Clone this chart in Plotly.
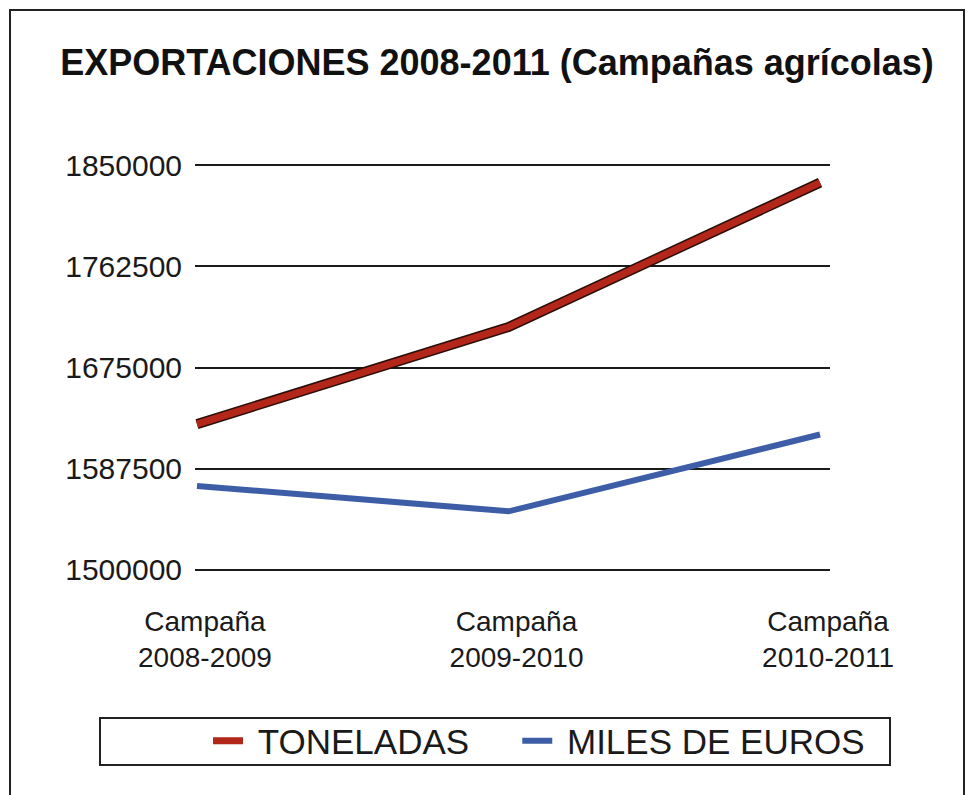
import plotly.graph_objects as go

# data
campanas = ["Campaña<br>2008-2009", "Campaña<br>2009-2010", "Campaña<br>2010-2011"]
toneladas = [1626000, 1710000, 1835000]
miles_euros = [1572500, 1550500, 1617000]
y_ticks = [1500000, 1587500, 1675000, 1762500, 1850000]

# the page body adds 8px around the figure, so work in screen px minus 8
OFF = 8
W, H = 973 - OFF, 795 - OFF
PX0, PX1, PY0, PY1 = 195, 830, 163, 572  # plot area on screen
L, R, T, B = PX0 - OFF, W - (PX1 - OFF), PY0 - OFF, H - (PY1 - OFF)
FONT = "Liberation Sans, Arial, Helvetica, sans-serif"
NB = "\u00a0"


def px_to_paper(x, y):
    return (x - PX0) / (PX1 - PX0), (PY1 - y) / (PY1 - PY0)


xs = list(range(len(campanas)))

fig = go.Figure()
# dark under-stroke for the red line
fig.add_trace(go.Scatter(x=xs, y=toneladas, mode="lines", showlegend=False, hoverinfo="skip",
                         line=dict(color="#2a0e08", width=10)))
fig.add_trace(go.Scatter(x=xs, y=toneladas, mode="lines", name=NB + "TONELADAS" + NB * 3,
                         line=dict(color="#b3261a", width=7)))
fig.add_trace(go.Scatter(x=xs, y=miles_euros, mode="lines", name=NB + "MILES DE EUROS",
                         line=dict(color="#3d5ea6", width=6)))

# outer frame and legend frame
x0, y0 = px_to_paper(10, 10)
x1, y1 = px_to_paper(964, 820)
lx0, ly0 = px_to_paper(100, 718)
lx1, ly1 = px_to_paper(890, 765)
fig.add_shape(type="rect", xref="paper", yref="paper", x0=x0, y0=y0, x1=x1, y1=y1,
              line=dict(color="#222222", width=2), layer="below")
fig.add_shape(type="rect", xref="paper", yref="paper", x0=lx0, y0=ly0, x1=lx1, y1=ly1,
              line=dict(color="#222222", width=2))

# legend anchored just left of the plot area so it may be wider than the plot
legx, legy = px_to_paper(194, 741)
fig.update_layout(
    width=W, height=H,
    margin=dict(l=L, r=R, t=T, b=B, autoexpand=False),
    paper_bgcolor="white", plot_bgcolor="white",
    font=dict(family=FONT, color="#1a1a1a"),
    title=dict(text="<b>EXPORTACIONES 2008-2011 (Campañas agrícolas)</b>",
               x=(497 - OFF) / W, xanchor="center", y=1 - (62 - OFF) / H, yanchor="middle",
               font=dict(size=36, color="#111111")),
    showlegend=True,
    legend=dict(orientation="h", x=legx, xanchor="left", y=legy, yanchor="middle",
                indentation=14,
                font=dict(size=35, color="#1a1a1a"), bgcolor="rgba(0,0,0,0)"),
    xaxis=dict(range=[-0.0064, 2.032], tickvals=xs, ticktext=campanas,
               showgrid=False, zeroline=False, showline=False,
               tickfont=dict(size=28), ticks="", ticklabelstandoff=30, ticklabelshift=8),
    yaxis=dict(range=[1498000, 1852000], tickvals=y_ticks, ticktext=[str(v) for v in y_ticks],
               showgrid=True, gridcolor="#1a1a1a", gridwidth=2, zeroline=False, showline=False,
               tickfont=dict(size=30), ticks="", ticklabelstandoff=12),
)

fig.write_html("out.html")
